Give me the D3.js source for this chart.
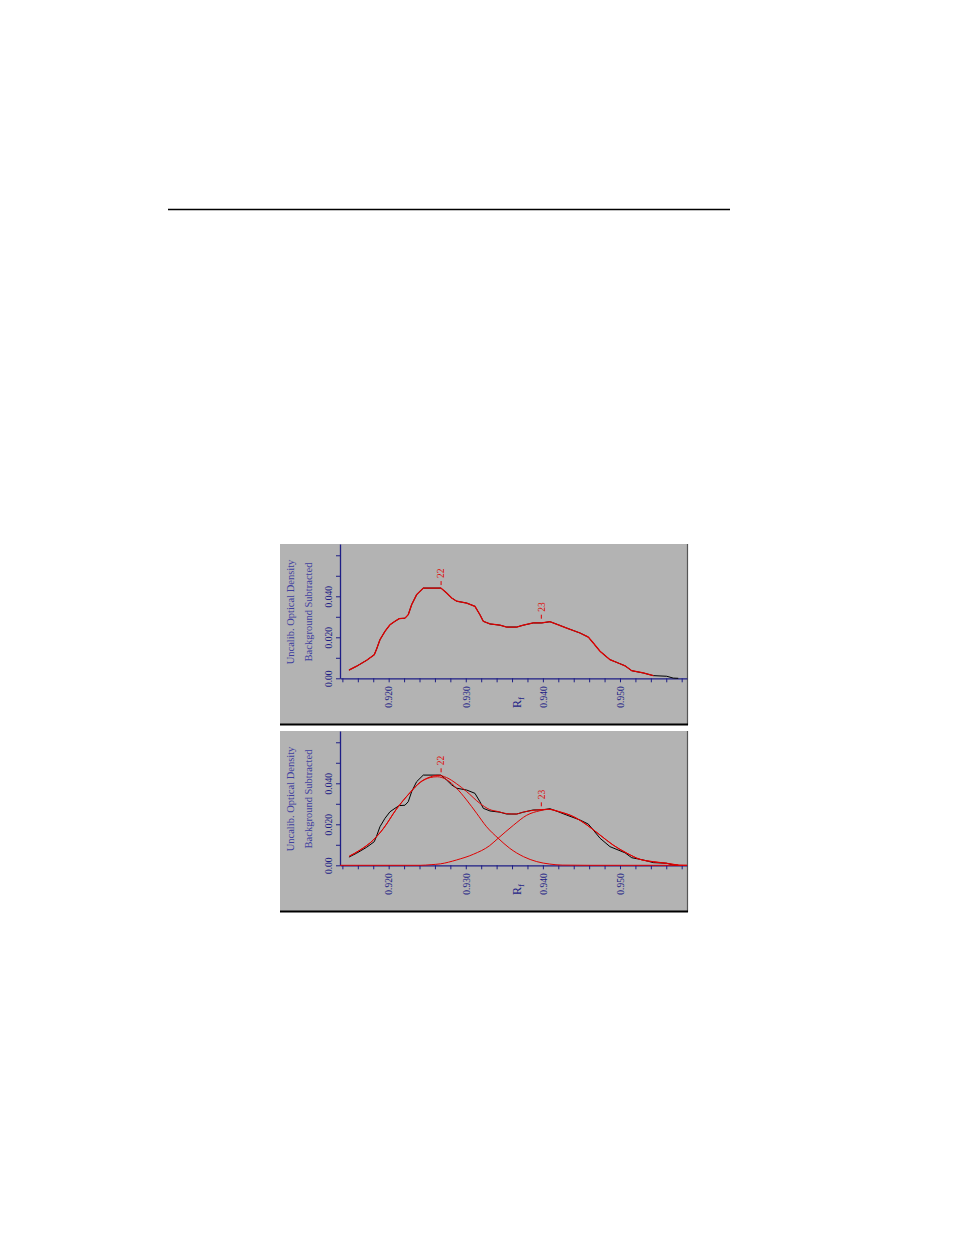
<!DOCTYPE html>
<html>
<head>
<meta charset="utf-8">
<script src="https://cdn.jsdelivr.net/npm/d3@7"></script>
<style>
	body { margin: 0; background: #fff; }
	svg text { font-family: "Liberation Serif", "DejaVu Serif", serif; }
</style>
</head>
<body>
<svg id="chart" width="954" height="1235"></svg>
<script>
// raw densitometer scan (Rf, optical density)
const scanRf = [0.91485, 0.91585, 0.91715, 0.91813, 0.91844, 0.91887, 0.91952, 0.92017, 0.92082, 0.92137,
	0.92211, 0.92254, 0.92298, 0.92363, 0.92449, 0.92678, 0.92752, 0.92817, 0.92882, 0.93012,
	0.93119, 0.93184, 0.93227, 0.93314, 0.93444, 0.93530, 0.93660, 0.93746, 0.93875, 0.93984,
	0.94092, 0.94200, 0.94309, 0.94481, 0.94589, 0.94654, 0.94741, 0.94870, 0.95000, 0.95065,
	0.95152, 0.95302, 0.95432, 0.95606, 0.95691, 0.95756];
const scanOD = [0.0040, 0.0059, 0.0088, 0.0115, 0.0143, 0.0188, 0.0229, 0.0261, 0.0278, 0.0291,
	0.0293, 0.0310, 0.0359, 0.0408, 0.0440, 0.0440, 0.0416, 0.0392, 0.0376, 0.0367,
	0.0351, 0.0310, 0.0278, 0.0265, 0.0259, 0.0250, 0.0250, 0.0259, 0.0270, 0.0270,
	0.0276, 0.0261, 0.0245, 0.0221, 0.0201, 0.0172, 0.0132, 0.0091, 0.0071, 0.0061,
	0.0037, 0.0026, 0.0013, 0.0010, 0.0001, 0.0000];

// fitted sum of the two bands
const fitRf = [0.9149, 0.9163, 0.9180, 0.9193, 0.9210, 0.9228, 0.9241, 0.9254, 0.9264, 0.9275,
	0.9288, 0.9301, 0.9318, 0.9331, 0.9342, 0.9353, 0.9365, 0.9375, 0.9392, 0.9407,
	0.9422, 0.9440, 0.9457, 0.9474, 0.9491, 0.9509, 0.9526, 0.9543, 0.9561, 0.9576];
const fitOD = [0.0045, 0.0075, 0.0123, 0.0179, 0.0274, 0.0356, 0.0406, 0.0431, 0.0439, 0.0428,
	0.0398, 0.0360, 0.0303, 0.0272, 0.0262, 0.0252, 0.0250, 0.0260, 0.0270, 0.0273,
	0.0261, 0.0237, 0.0197, 0.0148, 0.0099, 0.0059, 0.0029, 0.0018, 0.0010, 0.0001];

// band 22
const band1Rf = [0.9149, 0.9163, 0.9180, 0.9193, 0.9210, 0.9228, 0.9241, 0.9254, 0.9263, 0.9275,
	0.9288, 0.9301, 0.9314, 0.9327, 0.9342, 0.9357, 0.9375, 0.9392, 0.9409, 0.9425, 0.9460, 0.9587];
const band1OD = [0.0044, 0.0074, 0.0123, 0.0178, 0.0273, 0.0355, 0.0404, 0.0428, 0.0432, 0.0418,
	0.0376, 0.0319, 0.0254, 0.0188, 0.0132, 0.0083, 0.0042, 0.0018, 0.0006, 0.0001, 0, 0];

// band 23
const band2Rf = [0.9137, 0.9241, 0.9255, 0.9267, 0.9288, 0.9310, 0.9331, 0.9342, 0.9362, 0.9379,
	0.9396, 0.9407, 0.9422, 0.9440, 0.9457, 0.9474, 0.9491, 0.9509, 0.9526, 0.9543, 0.9561, 0.9576, 0.9587];
const band2OD = [0, 0, 0.0003, 0.0007, 0.0026, 0.0054, 0.0096, 0.0132, 0.0196, 0.0244,
	0.0266, 0.0273, 0.0260, 0.0236, 0.0197, 0.0148, 0.0099, 0.0059, 0.0029, 0.0017, 0.0009, 0.0001, 0];

const peakRf = [0.9268, 0.9398];
const peakLabels = ["22", "23"];

const xTicks = d3.range(0, 23).map(i => 0.914 + i * 0.002);
const xLabels = { "0.920": "0.920", "0.930": "0.930", "0.940": "0.940", "0.950": "0.950" };
const yTicks = [0, 0.01, 0.02, 0.03, 0.04, 0.05, 0.06];
const yLabels = { "0.00": "0.00", "0.02": "0.020", "0.04": "0.040" };

const RED = "#e00000";
const NAVY = "#1e1e86";
const PANEL_W = 407;
const PANEL_H = 180;

const svg = d3.select("#chart");

// rule at the top of the page
svg.append("line")
	.attr("x1", 168).attr("x2", 730)
	.attr("y1", 209.5).attr("y2", 209.5)
	.attr("stroke", "#000")
	.attr("stroke-width", 1.5);

const x = d3.scaleLinear().domain([0.91369, 0.95869]).range([60, 407]);
const y = d3.scaleLinear().domain([0, 0.0655]).range([134.3, 0]);

function toPoints(rf, od) {
	return rf.map((r, i) => ({ rf: r, od: od[i] }));
}

const scan = toPoints(scanRf, scanOD);
const fit = toPoints(fitRf, fitOD);
const band1 = toPoints(band1Rf, band1OD);
const band2 = toPoints(band2Rf, band2OD);

const rawLine = d3.line().x(d => x(d.rf)).y(d => y(d.od));
const smoothLine = d3.line().x(d => x(d.rf)).y(d => y(d.od)).curve(d3.curveMonotoneX);

function drawPanel(top, withFit) {
	const g = svg.append("g").attr("transform", `translate(280,${top})`);

	g.append("rect")
		.attr("width", PANEL_W)
		.attr("height", PANEL_H)
		.attr("fill", "#b3b3b3");
	g.append("line")
		.attr("x1", PANEL_W + 0.5).attr("x2", PANEL_W + 0.5)
		.attr("y1", 0).attr("y2", PANEL_H + 1)
		.attr("stroke", "#555").attr("stroke-width", 1.2);
	g.append("line")
		.attr("x1", 0).attr("x2", PANEL_W + 1)
		.attr("y1", PANEL_H + 0.5).attr("y2", PANEL_H + 0.5)
		.attr("stroke", "#000").attr("stroke-width", 2);

	// x axis
	const xAxis = g.append("g")
		.attr("transform", `translate(0,${y(0)})`)
		.call(d3.axisBottom(x)
			.tickValues(xTicks)
			.tickSize(4)
			.tickSizeOuter(0)
			.tickFormat(d => xLabels[d.toFixed(3)] || ""));
	xAxis.select(".domain").attr("stroke", NAVY).attr("stroke-width", 1.3);
	xAxis.selectAll(".tick line").attr("stroke", NAVY);
	xAxis.selectAll(".tick text")
		.attr("fill", NAVY)
		.attr("font-size", 9.5)
		.attr("font-family", "Liberation Serif")
		.attr("text-anchor", "end")
		.attr("x", 0).attr("y", 0)
		.attr("dy", "0.35em")
		.attr("transform", "translate(0,8) rotate(-90)");

	// y axis
	const yAxis = g.append("g")
		.attr("transform", `translate(${x.range()[0]},0)`)
		.call(d3.axisLeft(y)
			.tickValues(yTicks)
			.tickSize(4)
			.tickSizeOuter(0)
			.tickFormat(d => yLabels[d.toFixed(2)] || ""));
	yAxis.select(".domain").attr("stroke", NAVY).attr("stroke-width", 1.3);
	yAxis.selectAll(".tick line").attr("stroke", NAVY);
	yAxis.selectAll(".tick text")
		.attr("fill", NAVY)
		.attr("font-size", 9.5)
		.attr("font-family", "Liberation Serif")
		.attr("text-anchor", "middle")
		.attr("x", 0).attr("y", 0)
		.attr("dy", "0.35em")
		.attr("transform", "translate(-11,0) rotate(-90)");

	// axis titles
	const title = g.append("text")
		.attr("transform", "translate(14,68) rotate(-90)")
		.attr("text-anchor", "middle")
		.attr("fill", "#4040a0")
		.attr("font-size", 10.5);
	title.append("tspan").attr("x", 0).attr("dy", 0).text("Uncalib. Optical Density");
	title.append("tspan").attr("x", 0).attr("dy", 18).text("Background Subtracted");

	const rfLabel = g.append("text")
		.attr("transform", "translate(241,164) rotate(-90)")
		.attr("fill", NAVY)
		.attr("font-size", 12);
	rfLabel.append("tspan").text("R");
	rfLabel.append("tspan").attr("dy", 3).attr("font-size", 9).text("f");

	// curves
	g.append("path")
		.datum(scan)
		.attr("d", rawLine)
		.attr("fill", "none")
		.attr("stroke", "#000")
		.attr("stroke-width", 1);

	if (withFit) {
		[band1, band2, fit].forEach(d => {
			g.append("path")
				.datum(d)
				.attr("d", smoothLine)
				.attr("fill", "none")
				.attr("stroke", RED)
				.attr("stroke-width", 1);
		});
	}
	else {
		g.append("path")
			.datum(scan.filter(d => d.rf < 0.955))
			.attr("d", rawLine)
			.attr("fill", "none")
			.attr("stroke", RED)
			.attr("stroke-width", 1.3);
	}

	// peak markers
	const ref = withFit ? fit : scan;
	peakRf.forEach((p, i) => {
		const py = y(d3.max(ref.filter(d => Math.abs(d.rf - p) < 0.0012), d => d.od));
		g.append("line")
			.attr("x1", x(p)).attr("x2", x(p))
			.attr("y1", py - 7).attr("y2", py - 3)
			.attr("stroke", RED);
		g.append("text")
			.attr("transform", `translate(${x(p)},${py - 10}) rotate(-90)`)
			.attr("dy", "0.35em")
			.attr("fill", RED)
			.attr("font-size", 9.5)
			.text(peakLabels[i]);
	});
}

drawPanel(544, false);
drawPanel(731, true);
</script>
</body>
</html>
